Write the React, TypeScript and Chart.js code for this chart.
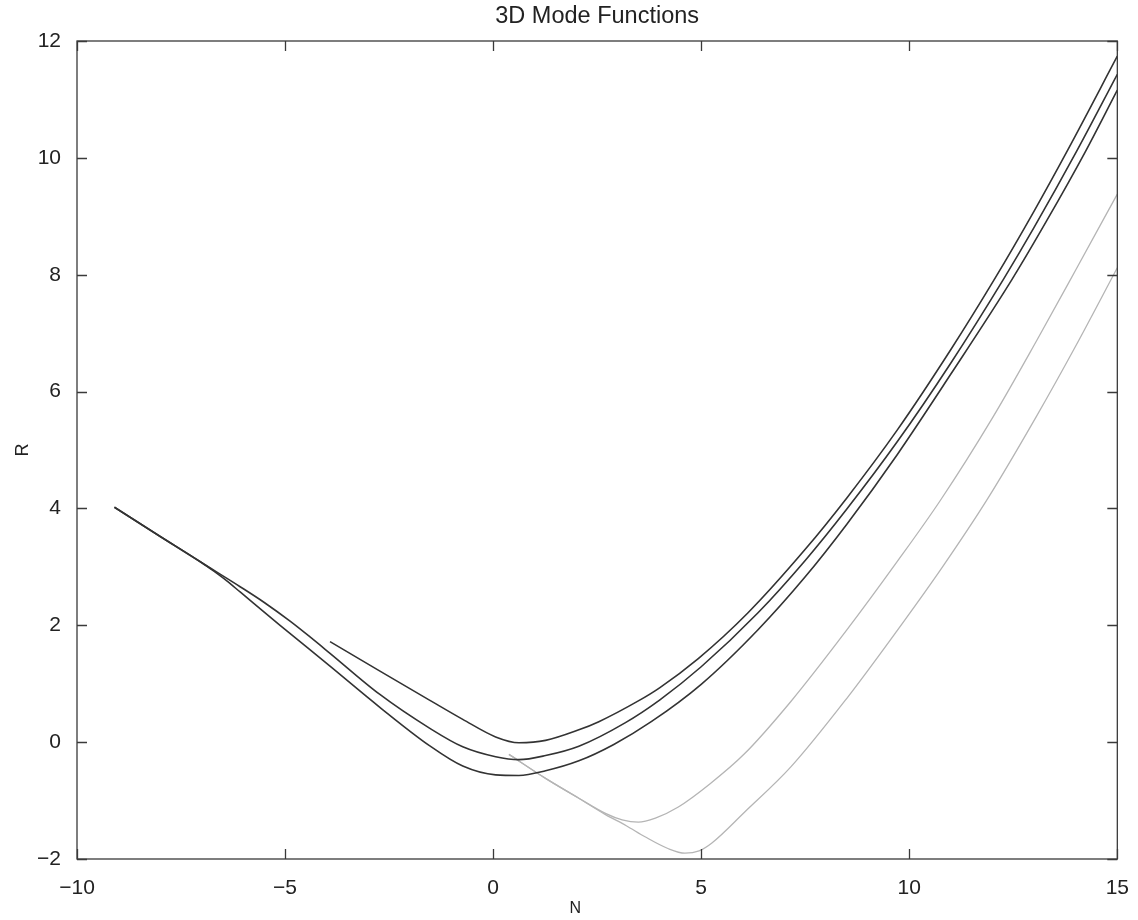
import React, { useEffect, useRef } from 'react';
import { Chart, registerables } from 'chart.js';

Chart.register(...registerables);

// ---- text ----
const TITLE = '3D Mode Functions';
const X_LABEL = 'N';
const Y_LABEL = 'R';

// ---- ticks ----
const xTicks = [-10, -5, 0, 5, 10, 15];
const yTicks = [-2, 0, 2, 4, 6, 8, 10, 12];

// ---- dark curve (upper, starts near N = -4) ----
const nA = [-3.92, -2.73, -1.53, -0.73, 0.06, 0.62, 1.26, 2.06, 2.54, 3.5, 4.0, 4.93, 6.12, 7.5, 8.5, 9.71, 11, 12.07, 13, 13.82, 15];
const rA = [1.72, 1.22, 0.72, 0.39, 0.09, -0.01, 0.03, 0.21, 0.35, 0.71, 0.93, 1.43, 2.21, 3.3, 4.18, 5.34, 6.72, 7.95, 9.09, 10.15, 11.74];

// ---- dark curve (middle) ----
const nB = [-9.1, -8, -7, -6.08, -5.5, -4.88, -4.4, -3.92, -2.73, -1.53, -0.73, 0.06, 0.62, 1.26, 2.06, 3.17, 4.0, 5.0, 6.36, 7.5, 8.5, 9.71, 11, 12.27, 13, 14.02, 15];
const rB = [4.02, 3.52, 3.07, 2.66, 2.39, 2.07, 1.8, 1.52, 0.82, 0.24, -0.08, -0.25, -0.3, -0.23, -0.07, 0.33, 0.72, 1.29, 2.21, 3.11, 3.99, 5.14, 6.49, 7.93, 8.81, 10.11, 11.43];

// ---- dark curve (lower) ----
const nC = [-9.1, -8, -7, -6.72, -6.4, -6.08, -5.12, -3.92, -2.73, -1.53, -0.73, 0.06, 0.62, 1.26, 2.06, 2.9, 3.8, 5.0, 6.36, 7.5, 8.5, 9.71, 11, 12.47, 13.3, 14.22, 15];
const rC = [4.02, 3.52, 3.07, 2.93, 2.76, 2.57, 2.0, 1.3, 0.6, -0.06, -0.41, -0.56, -0.57, -0.49, -0.32, -0.04, 0.35, 0.99, 1.92, 2.83, 3.73, 4.92, 6.3, 7.92, 8.92, 10.09, 11.16];

// ---- gray curve 1 (minimum near N = 3.5) ----
const nG1 = [0.38, 1.26, 2.06, 2.7, 3.1, 3.49, 3.9, 4.45, 5.2, 6.04, 7.16, 8.5, 9.7, 10.75, 12, 13.06, 14, 15];
const rG1 = [-0.21, -0.62, -0.96, -1.22, -1.33, -1.37, -1.3, -1.11, -0.72, -0.2, 0.7, 1.92, 3.08, 4.14, 5.55, 6.87, 8.08, 9.38];

// ---- gray curve 2 (minimum near N = 4.6) ----
const nG2 = [0.38, 1.26, 2.06, 2.7, 3.2, 3.65, 4.2, 4.61, 4.95, 5.25, 6.04, 7.16, 8.5, 9.7, 10.8, 11.87, 13.06, 14, 15];
const rG2 = [-0.21, -0.62, -0.96, -1.24, -1.43, -1.62, -1.82, -1.9, -1.86, -1.73, -1.2, -0.42, 0.75, 1.9, 3.0, 4.15, 5.58, 6.78, 8.12];

const DARK = '#333333';
const GRAY = '#b5b5b5';
const TEXT = '#222222';
const FONT = '"Liberation Sans", Arial, Helvetica, sans-serif';

const toPoints = (xs: number[], ys: number[]) => xs.map((x, i) => ({ x, y: ys[i] }));
const fmt = (v: number) => (v < 0 ? '\u2212' + Math.abs(v) : String(v));

const framePlugin = {
  id: 'matlabFrame',
  afterDraw(chart: any) {
    const { ctx, chartArea, scales } = chart;
    const { left, right, top, bottom } = chartArea;
    const x = scales.x;
    const y = scales.y;
    ctx.save();
    ctx.strokeStyle = '#3a3a3a';
    ctx.lineWidth = 1.3;
    ctx.strokeRect(left, top, right - left, bottom - top);
    const L = 10;
    ctx.beginPath();
    xTicks.forEach((v) => {
      const px = Math.round(x.getPixelForValue(v)) + 0.5;
      ctx.moveTo(px, bottom);
      ctx.lineTo(px, bottom - L);
      ctx.moveTo(px, top);
      ctx.lineTo(px, top + L);
    });
    yTicks.forEach((v) => {
      const py = Math.round(y.getPixelForValue(v)) + 0.5;
      ctx.moveTo(left, py);
      ctx.lineTo(left + L, py);
      ctx.moveTo(right, py);
      ctx.lineTo(right - L, py);
    });
    ctx.stroke();
    ctx.fillStyle = TEXT;
    ctx.font = '16px ' + FONT;
    ctx.textAlign = 'center';
    ctx.textBaseline = 'middle';
    ctx.fillText(X_LABEL, (left + right) / 2 - 22, bottom + 50);
    ctx.restore();
  },
};

export default function App() {
  const ref = useRef<HTMLCanvasElement | null>(null);

  useEffect(() => {
    if (!ref.current) return;
    Chart.defaults.font.family = FONT;
    const mk = (label: string, xs: number[], ys: number[], color: string, w: number) => ({
      label,
      data: toPoints(xs, ys),
      borderColor: color,
      backgroundColor: color,
      borderWidth: w,
      pointRadius: 0,
      fill: false,
      cubicInterpolationMode: 'monotone' as const,
    });
    const chart = new Chart(ref.current, {
      type: 'line',
      data: {
        datasets: [
          mk('mode 1', nA, rA, DARK, 1.6),
          mk('mode 2', nB, rB, DARK, 1.6),
          mk('mode 3', nC, rC, DARK, 1.6),
          mk('mode 4', nG1, rG1, GRAY, 1.3),
          mk('mode 5', nG2, rG2, GRAY, 1.3),
        ],
      },
      options: {
        responsive: false,
        animation: false,
        devicePixelRatio: 1,
        layout: { padding: { left: 0, right: 17, top: 0, bottom: 0 } },
        plugins: {
          legend: { display: false },
          tooltip: { enabled: false },
          title: {
            display: true,
            text: TITLE,
            fullSize: false,
            color: TEXT,
            font: { size: 23.5, weight: 'normal', family: FONT },
            padding: { top: 2.1, bottom: 10.7 },
          },
        },
        scales: {
          x: {
            type: 'linear',
            min: -10,
            max: 15,
            grid: { display: false },
            border: { display: false },
            ticks: {
              padding: 9,
              color: TEXT,
              font: { size: 21, family: FONT },
              maxRotation: 0,
              callback: (v: any) => fmt(Number(v)),
            },
            afterBuildTicks: (s: any) => {
              s.ticks = xTicks.map((v) => ({ value: v }));
            },
            afterFit: (s: any) => {
              s.height = 61;
            },
          },
          y: {
            type: 'linear',
            min: -2,
            max: 12,
            grid: { display: false },
            border: { display: false },
            title: {
              display: true,
              text: Y_LABEL,
              color: TEXT,
              font: { size: 18, family: FONT },
              padding: { top: 12, bottom: 0 },
            },
            ticks: {
              padding: 8,
              color: TEXT,
              font: { size: 21, family: FONT },
              callback: (v: any) => fmt(Number(v)),
            },
            afterBuildTicks: (s: any) => {
              s.ticks = yTicks.map((v) => ({ value: v }));
            },
            afterFit: (s: any) => {
              s.width = 77;
            },
          },
        },
      },
      plugins: [framePlugin],
    });
    return () => chart.destroy();
  }, []);

  return (
    <div style={{ position: 'absolute', left: 0, top: 0, width: 1138, height: 920, background: '#ffffff' }}>
      <canvas ref={ref} width={1138} height={920} style={{ display: 'block' }} />
    </div>
  );
}
